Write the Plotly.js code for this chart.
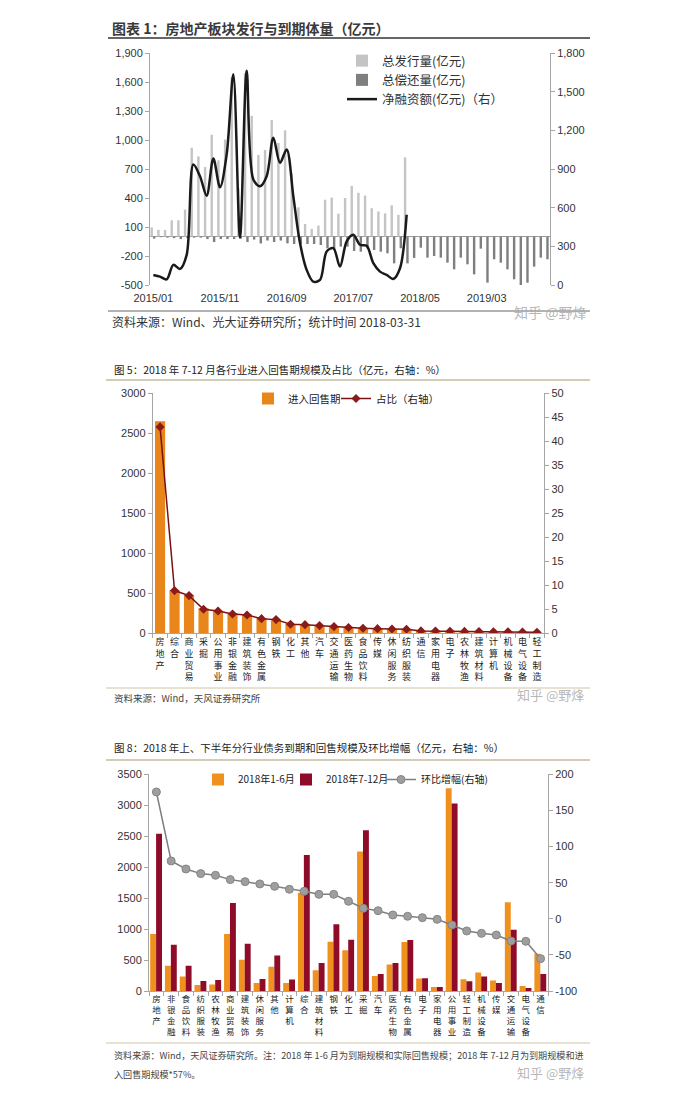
<!DOCTYPE html>
<html><head><meta charset="utf-8">
<script src="https://cdn.plot.ly/plotly-3.0.1.min.js"></script>
<style>html,body{margin:0;padding:0;background:#fff;}#chart{width:686px;height:1113px;}</style>
</head><body><div id="chart"></div>
<script>
// ---------- Chart 1 data ----------
const months = ["2015/01","2015/02","2015/03","2015/04","2015/05","2015/06","2015/07","2015/08","2015/09","2015/10","2015/11","2015/12",
"2016/01","2016/02","2016/03","2016/04","2016/05","2016/06","2016/07","2016/08","2016/09","2016/10","2016/11","2016/12",
"2017/01","2017/02","2017/03","2017/04","2017/05","2017/06","2017/07","2017/08","2017/09","2017/10","2017/11","2017/12",
"2018/01","2018/02","2018/03","2018/04","2018/05","2018/06","2018/07","2018/08","2018/09","2018/10","2018/11","2018/12",
"2019/01","2019/02","2019/03","2019/04","2019/05","2019/06","2019/07","2019/08","2019/09","2019/10","2019/11","2019/12"];
const issuance = [95,70,70,170,170,280,920,830,720,1055,790,1005,1650,500,1690,1250,845,897,1207,969,
1100,655,303,131,79,115,382,405,238,400,525,454,425,294,260,241,324,226,820,
null,null,null,null,null,null,null,null,null,null,null,null,null,null,null,null,null,null,null,null,null,null];
const repayment = [-20,-5,-10,-15,-25,-15,-10,-10,-25,-55,-25,-25,-25,-20,-55,-30,-70,-40,-55,-40,
-69,-76,-76,-76,-76,-86,-120,-138,-103,-103,-148,-155,-120,-138,-155,-172,-276,-120,-276,
-220,-114,-217,-200,-217,-269,-338,-217,-286,-390,-124,-476,-234,-269,-338,-441,-510,-476,-310,-217,-234];
const netFinancing = [78,65,44,156,125,234,935,844,693,982,758,1013,1636,369,1662,818,766,844,1143,948,
1052,688,325,117,26,39,260,286,143,338,390,312,304,169,104,78,47,130,545];
const xTicks1 = ["2015/01","2015/11","2016/09","2017/07","2018/05","2019/03"];
const yLeft1Vals = [-500,-200,100,400,700,1000,1300,1600,1900];
const yLeft1Text = ["-500","-200","100","400","700","1,000","1,300","1,600","1,900"];

// ---------- Chart 2 data ----------
const industries5 = ["房地产","综合","商业贸易","采掘","公用事业","非银金融","建筑装饰","有色金属","钢铁","化工","其他","汽车","交通运输","医药生物","食品饮料","传媒","休闲服务","纺织服装","通信","家用电器","电子","农林牧渔","建筑材料","计算机","机械设备","电气设备","轻工制造"];
const putScale = [2650,542,479,312,283,250,237,187,175,117,112,100,83,71,62,58,54,50,29,29,25,25,21,21,20,17,13];
const putShare = [43.0,8.9,7.85,5.0,4.65,4.03,3.8,3.05,2.85,1.9,1.8,1.6,1.4,1.2,1.05,0.97,0.9,0.83,0.5,0.48,0.42,0.4,0.35,0.33,0.32,0.28,0.22];

// ---------- Chart 3 data ----------
const industries8 = ["房地产","非银金融","食品饮料","纺织服装","农林牧渔","商业贸易","建筑装饰","休闲服务","其他","计算机","综合","建筑材料","钢铁","化工","采掘","汽车","医药生物","有色金属","电子","家用电器","公用事业","轻工制造","机械设备","传媒","交通运输","电气设备","通信"];
const h1 = [920,406,233,97,103,920,503,130,390,130,1585,335,795,660,2255,243,427,790,200,65,3275,189,297,168,1434,81,600];
const h2 = [2540,747,406,162,179,1423,763,195,573,184,2195,454,1077,828,2598,276,454,822,205,65,3030,157,233,130,990,49,276];
const growth = [175.5,80,68.9,62.5,60.2,54.2,51.4,48.2,44.9,40.8,38,33.8,33.8,24.2,14.5,11.2,5.2,3.4,1.5,-0.8,-8.6,-16.9,-20.2,-22.5,-30.8,-31.2,-55.2];
const yRight3Vals = [-100,-50,0,50,100,150,200];
const yRight3Text = ["-100","-50","0","50","100","150","200"];

// ---------- helpers ----------
const W = 686, H = 1113;
const px = x => x / W;
const py = y => 1 - y / H;
const FONT = '"Liberation Sans", "Noto Sans CJK SC", sans-serif';
const CJK = '"Noto Sans CJK SC", "Liberation Sans", sans-serif';
const vert = arr => arr.map(s => s.split('').join('<br>'));

const traces = [
  {type:'bar', name:'总发行量(亿元)', x:months, y:issuance, xaxis:'x', yaxis:'y', width:0.36, offset:-0.42,
   marker:{color:'#C4C4C4'}, legend:'legend'},
  {type:'bar', name:'总偿还量(亿元)', x:months, y:repayment, xaxis:'x', yaxis:'y', width:0.36, offset:-0.06,
   marker:{color:'#7F7F7F'}, legend:'legend'},
  {type:'scatter', mode:'lines', name:'净融资额(亿元)（右）', x:months.slice(0, netFinancing.length), y:netFinancing,
   xaxis:'x', yaxis:'y2', line:{color:'#1a1a1a', width:2.5, shape:'spline', smoothing:0.9}, legend:'legend'},

  {type:'bar', name:'进入回售期', x:industries5, y:putScale, xaxis:'x2', yaxis:'y3', width:0.7, offset:-0.35,
   marker:{color:'#E8861C'}, legend:'legend2', legendwidth:43},
  {type:'scatter', mode:'lines+markers', name:'占比（右轴）', x:industries5, y:putShare, xaxis:'x2', yaxis:'y4',
   line:{color:'#7A1212', width:1.5}, marker:{symbol:'diamond', size:7, color:'#8B1A1A'}, legend:'legend2'},

  {type:'bar', name:'2018年1-6月', x:industries8, y:h1, xaxis:'x3', yaxis:'y5', width:0.4, offset:-0.42,
   marker:{color:'#F0901E'}, legend:'legend3', legendwidth:43},
  {type:'bar', name:'2018年7-12月', x:industries8, y:h2, xaxis:'x3', yaxis:'y5', width:0.4, offset:-0.02,
   marker:{color:'#8E0C27'}, legend:'legend3', legendwidth:50},
  {type:'scatter', mode:'lines+markers', name:'环比增幅(右轴)', x:industries8, y:growth, xaxis:'x3', yaxis:'y6',
   line:{color:'#7F7F7F', width:1.5}, marker:{symbol:'circle', size:8, color:'#9E9E9E', line:{color:'#858585', width:1}}, legend:'legend3'}
];

const axisCommon = {showgrid:false, zeroline:false, showline:true, linecolor:'#A6A6A6', linewidth:1,
  ticks:'outside', ticklen:4, tickcolor:'#A6A6A6', tickfont:{family:FONT, size:11, color:'#333'}, fixedrange:true};

const layout = {
  width:W, height:H, margin:{l:0,r:0,t:0,b:0}, paper_bgcolor:'#ffffff', plot_bgcolor:'rgba(0,0,0,0)',
  barmode:'overlay', showlegend:true, hovermode:false,
  font:{family:CJK, color:'#333'},
  // chart 1
  xaxis:{...axisCommon, domain:[px(150),px(550)], anchor:'y', type:'category', showline:false, ticks:'outside',
    tickcolor:'rgba(0,0,0,0)', ticklen:3, range:[-0.5, months.length - 0.5],
    tickmode:'array', tickvals:xTicks1, ticktext:xTicks1, tickangle:0, tickfont:{family:FONT, size:11, color:'#333'}},
  yaxis:{...axisCommon, domain:[py(285),py(53)], anchor:'x', range:[-500,1900], tickmode:'array',
    tickvals:yLeft1Vals, ticktext:yLeft1Text, zeroline:true, zerolinecolor:'#9A9A9A', zerolinewidth:1},
  yaxis2:{...axisCommon, overlaying:'y', side:'right', anchor:'x', range:[0,1800], dtick:300, tick0:0, tickformat:',d'},
  // chart 2
  xaxis2:{...axisCommon, domain:[px(152.8),px(544.2)], anchor:'y3', type:'category', tickson:'boundaries',
    range:[-0.5, industries5.length - 0.5],
    tickmode:'array', tickvals:industries5, ticktext:vert(industries5), tickangle:0,
    tickfont:{family:CJK, size:9, color:'#222'}},
  yaxis3:{...axisCommon, domain:[py(633.3),py(393.3)], anchor:'x2', range:[0,3000], dtick:500},
  yaxis4:{...axisCommon, overlaying:'y3', side:'right', anchor:'x2', range:[0,50], dtick:5},
  // chart 3
  xaxis3:{...axisCommon, domain:[px(149),px(548)], anchor:'y5', type:'category', tickson:'boundaries',
    range:[-0.5, industries8.length - 0.5],
    tickmode:'array', tickvals:industries8, ticktext:vert(industries8), tickangle:0,
    tickfont:{family:CJK, size:8.5, color:'#222'}},
  yaxis5:{...axisCommon, domain:[py(991),py(774.3)], anchor:'x3', range:[0,3500], dtick:500},
  yaxis6:{...axisCommon, overlaying:'y5', side:'right', anchor:'x3', range:[-100,200], tickmode:'array',
    tickvals:yRight3Vals, ticktext:yRight3Text},
  legend:{x:px(342), y:py(46), xanchor:'left', yanchor:'top', orientation:'v', bgcolor:'rgba(0,0,0,0)',
    font:{family:CJK, size:12.5, color:'#333'}, tracegroupgap:0},
  legend2:{x:px(248), y:py(384), xanchor:'left', yanchor:'top', orientation:'h', bgcolor:'rgba(0,0,0,0)',
    font:{family:CJK, size:10.5, color:'#222'}},
  legend3:{x:px(198), y:py(765), xanchor:'left', yanchor:'top', orientation:'h', bgcolor:'rgba(0,0,0,0)',
    font:{family:CJK, size:10, color:'#222'}},
  shapes:[
    {type:'line', xref:'paper', yref:'paper', x0:px(108), x1:px(590), y0:py(38), y1:py(38), line:{color:'#333', width:1.5}},
    {type:'line', xref:'paper', yref:'paper', x0:px(108), x1:px(590), y0:py(311), y1:py(311), line:{color:'#666', width:1}},
    {type:'line', xref:'paper', yref:'paper', x0:px(106), x1:px(590), y0:py(380), y1:py(380), line:{color:'#A89A70', width:1.2}},
    {type:'line', xref:'paper', yref:'paper', x0:px(106), x1:px(590), y0:py(688), y1:py(688), line:{color:'#CFC4A4', width:1}},
    {type:'line', xref:'paper', yref:'paper', x0:px(106), x1:px(590), y0:py(760), y1:py(760), line:{color:'#A89A70', width:1.2}},
    {type:'line', xref:'paper', yref:'paper', x0:px(106), x1:px(590), y0:py(1043), y1:py(1043), line:{color:'#CFC4A4', width:1}}
  ],
  annotations:[
    {text:'<b>图表 1：房地产板块发行与到期体量（亿元）</b>', x:px(110), y:py(28), xref:'paper', yref:'paper', xanchor:'left', yanchor:'middle', showarrow:false, font:{family:CJK, size:14, color:'#3a3a3a'}},
    {text:'资料来源：Wind、光大证券研究所；统计时间 2018-03-31', x:px(110), y:py(321), xref:'paper', yref:'paper', xanchor:'left', yanchor:'middle', showarrow:false, font:{family:CJK, size:12, color:'#333'}},
    {text:'图 5：2018 年 7-12 月各行业进入回售期规模及占比（亿元，右轴：%）', x:px(112), y:py(369), xref:'paper', yref:'paper', xanchor:'left', yanchor:'middle', showarrow:false, font:{family:CJK, size:10.5, color:'#222'}},
    {text:'资料来源：Wind，天风证券研究所', x:px(112), y:py(698), xref:'paper', yref:'paper', xanchor:'left', yanchor:'middle', showarrow:false, font:{family:CJK, size:9.5, color:'#444'}},
    {text:'图 8：2018 年上、下半年分行业债务到期和回售规模及环比增幅（亿元，右轴：%）', x:px(112), y:py(748), xref:'paper', yref:'paper', xanchor:'left', yanchor:'middle', showarrow:false, font:{family:CJK, size:10.5, color:'#222'}},
    {text:'资料来源：Wind，天风证券研究所。注：2018 年 1-6 月为到期规模和实际回售规模；2018 年 7-12 月为到期规模和进', x:px(112), y:py(1055), xref:'paper', yref:'paper', xanchor:'left', yanchor:'middle', showarrow:false, font:{family:CJK, size:9.1, color:'#444'}},
    {text:'入回售期规模*57%。', x:px(112), y:py(1074), xref:'paper', yref:'paper', xanchor:'left', yanchor:'middle', showarrow:false, font:{family:CJK, size:9.1, color:'#444'}},
    {text:'知乎 @野烽', x:px(550), y:py(312), xref:'paper', yref:'paper', xanchor:'center', yanchor:'middle', showarrow:false, font:{family:CJK, size:14, color:'rgba(170,170,170,0.85)'}},
    {text:'知乎 @野烽', x:px(550), y:py(694), xref:'paper', yref:'paper', xanchor:'center', yanchor:'middle', showarrow:false, font:{family:CJK, size:13, color:'rgba(170,170,170,0.85)'}},
    {text:'知乎 @野烽', x:px(550), y:py(1072), xref:'paper', yref:'paper', xanchor:'center', yanchor:'middle', showarrow:false, font:{family:CJK, size:13, color:'rgba(170,170,170,0.85)'}}
  ]
};

Plotly.newPlot('chart', traces, layout, {displayModeBar:false, staticPlot:true});
</script></body></html>
